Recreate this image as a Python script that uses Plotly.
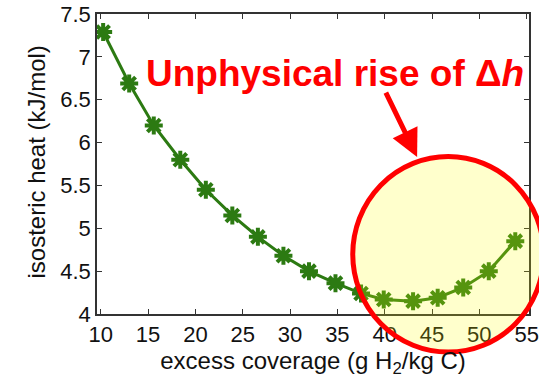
import plotly.graph_objects as go

coverage = [10.25, 13.0, 15.6, 18.4, 21.1, 23.9, 26.6, 29.3, 32.0, 34.8, 37.5, 39.9, 43.0, 45.6, 48.3, 51.0, 53.8]
heat = [7.29, 6.69, 6.20, 5.80, 5.45, 5.15, 4.90, 4.68, 4.50, 4.36, 4.24, 4.17, 4.15, 4.19, 4.31, 4.50, 4.85]
x_ticks = [10, 15, 20, 25, 30, 35, 40, 45, 50, 55]
y_ticks = [4, 4.5, 5, 5.5, 6, 6.5, 7, 7.5]

FONT = "Liberation Sans, Arial, sans-serif"
GREEN = "#2c7a12"

fig = go.Figure()
fig.add_trace(go.Scatter(
    x=coverage, y=heat, mode="lines+markers",
    line=dict(color=GREEN, width=3),
    marker=dict(symbol="asterisk-open", size=15, line=dict(color=GREEN, width=4), color=GREEN),
    showlegend=False,
))

axis_common = dict(
    showline=True, linecolor="#333333", linewidth=1.5, mirror="ticks",
    ticks="inside", ticklen=5, tickcolor="#333333", tickwidth=1,
    showgrid=False, zeroline=False, automargin=False,
    tickfont=dict(family=FONT, size=22, color="#111111"),
)

fig.update_xaxes(range=[9.6, 55.25], tickvals=x_ticks, ticktext=[str(v) for v in x_ticks],
                 title=dict(text="excess coverage (g H<sub>2</sub>/kg C)",
                            font=dict(family=FONT, size=24, color="#111111"), standoff=4),
                 **axis_common)
fig.update_yaxes(range=[4, 7.5], tickvals=y_ticks, ticktext=[("%g" % v) for v in y_ticks],
                 **axis_common)

# y-axis title
fig.add_annotation(xref="paper", yref="paper", x=-0.139, y=0.508, xanchor="center", yanchor="middle",
                   text="isosteric heat (kJ/mol)", textangle=-90, showarrow=False,
                   font=dict(family=FONT, size=24, color="#111111"))

# highlight ellipse
fig.add_shape(type="circle", xref="paper", yref="paper",
              x0=0.592, x1=1.034, y0=-0.127, y1=0.525,
              fillcolor="rgba(255,255,0,0.2)", line=dict(color="#ff0000", width=5), layer="above")

fig.add_annotation(xref="paper", yref="paper", x=0.55, y=0.80, xanchor="center", yanchor="middle",
                   text="<b>Unphysical rise of Δ<i>h</i></b>", showarrow=False,
                   font=dict(family=FONT, size=37, color="#ff0000"))
fig.add_annotation(xref="paper", yref="paper", x=0.741, y=0.523, ax=-32, ay=-66,
                   text="", showarrow=True, arrowcolor="#ff0000", arrowwidth=5,
                   arrowhead=2, arrowsize=1.1)

fig.update_layout(width=539, height=379, margin=dict(l=97, r=10, t=14, b=65),
                  paper_bgcolor="white", plot_bgcolor="white",
                  font=dict(family=FONT))

fig.write_html("out.html")
